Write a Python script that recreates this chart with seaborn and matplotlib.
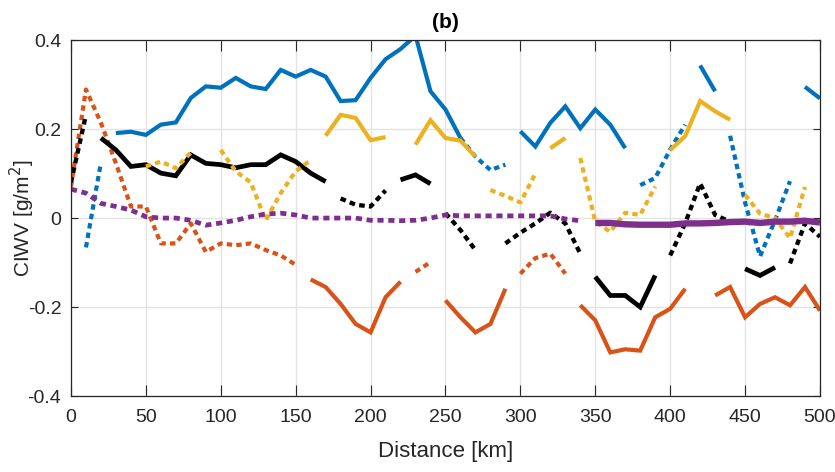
import numpy as np
import pandas as pd
import matplotlib
matplotlib.use("Agg")
import matplotlib.pyplot as plt
import seaborn as sns

# ---------------- data ----------------
distance = list(range(0, 510, 10))  # km, 51 points
nan = np.nan

blue = [nan, -0.066, 0.125, 0.191, 0.194, 0.187, 0.210, 0.215, 0.270, 0.296,
        0.293, 0.315, 0.296, 0.290, 0.333, 0.318, 0.333, 0.318, 0.263, 0.265,
        0.315, 0.357, 0.380, 0.410, 0.285, 0.244, 0.180, 0.138, 0.108, 0.120,
        0.195, 0.161, 0.214, 0.251, 0.202, 0.244, 0.210, 0.157, 0.074, 0.090,
        0.154, 0.210, 0.343, 0.285, 0.185, 0.035, -0.086, -0.005, 0.083, 0.295,
        0.269]
orange = [0.071, 0.289, 0.214, 0.123, 0.026, 0.026, -0.057, -0.057, -0.012, -0.076,
          -0.057, -0.061, -0.057, -0.072, -0.084, -0.105, -0.138, -0.155, -0.193, -0.238,
          -0.257, -0.178, -0.143, -0.121, -0.099, -0.185, -0.223, -0.257, -0.238, -0.159,
          -0.125, -0.090, -0.080, -0.125, -0.196, -0.230, -0.302, -0.295, -0.298, -0.223,
          -0.204, -0.159, nan, -0.174, -0.155, -0.223, -0.193, -0.178, -0.196, -0.155,
          -0.208]
black = [0.080, 0.232, 0.180, 0.153, 0.116, 0.120, 0.101, 0.095, 0.142, 0.123,
         0.120, 0.113, 0.120, 0.120, 0.142, 0.127, 0.101, 0.082, 0.044, 0.030,
         0.026, 0.062, 0.086, 0.097, 0.077, 0.011, -0.027, -0.072, nan, -0.057,
         -0.033, -0.012, 0.012, -0.012, -0.080, -0.132, -0.174, -0.174, -0.200, -0.129,
         -0.084, -0.012, 0.078, 0.007, -0.008, -0.114, -0.129, -0.111, -0.102, -0.012,
         -0.042]
yellow = [nan, nan, nan, nan, nan, 0.116, 0.127, 0.112, 0.147, nan,
          0.153, 0.105, 0.080, -0.005, 0.056, 0.105, 0.130, 0.185, 0.232, 0.225,
          0.175, 0.182, nan, 0.165, 0.220, 0.180, 0.174, 0.138, 0.063, 0.050,
          0.035, 0.100, 0.157, 0.180, 0.135, -0.008, -0.031, 0.012, 0.007, 0.071,
          0.153, 0.184, 0.263, 0.240, 0.221, 0.052, 0.010, 0.000, -0.045, 0.070,
          nan]
purple = [0.065, 0.056, 0.033, 0.026, 0.018, 0.003, 0.000, 0.000, -0.005, -0.016,
          -0.011, -0.005, 0.003, 0.009, 0.011, 0.007, 0.000, 0.000, 0.000, 0.000,
          -0.005, -0.005, -0.006, -0.005, 0.000, 0.007, 0.005, 0.005, 0.005, 0.005,
          0.005, 0.005, 0.005, -0.002, -0.006, -0.011, -0.011, -0.014, -0.015, -0.015,
          -0.015, -0.012, -0.012, -0.011, -0.009, -0.008, -0.011, -0.008, -0.008, -0.006,
          -0.010]

# class of each 10-km interval: S = solid, D = dotted, - = not shown
blue_class   = "-D-" + "S" * 23 + "DDD-" + "S" * 7 + "-DDD-S-DDDD-S"
orange_class = "D" * 15 + "-" + "S" * 6 + "-D-" + "SSSS-DDD-" + "S" * 7 + "--" + "S" * 7
black_class  = "D-" + "S" * 15 + "-DDD-SS-DD--" + "DDDDD-SSSS-DDDD-SS-DD"
yellow_class = "-----DDD--" + "DDDDDD-SSSS--SSSS-DDD-S-DDDDD-SSSS-DDDD-"
purple_class = "D" * 34 + "-" + "S" * 15

series = [
    ("blue", blue, blue_class),
    ("orange", orange, orange_class),
    ("black", black, black_class),
    ("yellow", yellow, yellow_class),
    ("purple", purple, purple_class),
]

# ---------------- build long table of runs ----------------
rows = []
run_id = 0
for name, vals, cls in series:
    assert len(vals) == 51 and len(cls) == 50, (name, len(vals), len(cls))
    i = 0
    while i < 50:
        c = cls[i]
        if c == "-":
            i += 1
            continue
        j = i
        while j < 50 and cls[j] == c:
            j += 1
        for k in range(i, j + 1):
            rows.append(dict(distance=distance[k], value=vals[k], series=name,
                             kind="solid" if c == "S" else "dotted", run=run_id))
        run_id += 1
        i = j
df = pd.DataFrame(rows)

colors = {
    "blue": "#0072BD",
    "orange": "#D95319",
    "yellow": "#EDB120",
    "purple": "#7E2F8E",
    "black": "#000000",
}

# ---------------- figure ----------------
sns.set_theme(style="whitegrid")
plt.rcParams["font.family"] = ["Liberation Sans Narrow", "Liberation Sans", "DejaVu Sans"]

fig = plt.figure(figsize=(8.35, 4.72), dpi=100)
ax = fig.add_axes([0.085, 0.161, 0.897, 0.754])

lw_solid = {"blue": 3.0, "orange": 3.0, "black": 3.4, "yellow": 3.0, "purple": 4.6}
lw_dot = {"blue": 3.0, "orange": 3.0, "black": 3.1, "yellow": 3.0, "purple": 3.4}

for name in ["blue", "orange", "black", "yellow", "purple"]:
    for kind in ["dotted", "solid"]:
        sub = df[(df.series == name) & (df.kind == kind)]
        if sub.empty:
            continue
        if kind == "solid":
            sns.lineplot(data=sub, x="distance", y="value", units="run", estimator=None,
                         color=colors[name], linewidth=lw_solid[name], ax=ax,
                         solid_joinstyle="miter", solid_capstyle="butt", legend=False)
        else:
            sns.lineplot(data=sub, x="distance", y="value", units="run", estimator=None,
                         color=colors[name], linewidth=lw_dot[name], ax=ax,
                         dashes=(1.3, 1.0), dash_capstyle="butt", legend=False)

ax.set_xlim(0, 500)
ax.set_ylim(-0.4, 0.4)
ax.set_xticks(range(0, 501, 50))
ax.set_yticks([-0.4, -0.2, 0, 0.2, 0.4])
ax.set_yticklabels(["-0.4", "-0.2", "0", "0.2", "0.4"])

ax.set_facecolor("white")
ax.grid(True, color="#e3e3e3", linewidth=1.0)
for s in ax.spines.values():
    s.set_visible(True)
    s.set_color("#262626")
    s.set_linewidth(0.9)

ax.tick_params(axis="x", which="both", direction="in", length=8, width=0.8,
               color="#262626", top=True, bottom=True, labelsize=14, labelcolor="#262626", pad=9)
ax.tick_params(axis="y", which="both", direction="in", length=5, width=0.8,
               color="#262626", left=True, right=True, labelsize=14, labelcolor="#262626", pad=7)

ax.set_xlabel("Distance [km]", fontsize=16, color="#262626", labelpad=11)
ax.set_ylabel("CIWV [g/m$^2$]", fontsize=15, color="#262626",
              family=["Liberation Sans", "DejaVu Sans"], va="center")
ax.yaxis.set_label_coords(-0.0654, 0.5)
ax.set_title("(b)", fontsize=15, fontweight="bold", color="#000000", pad=9)

fig.savefig("out.png", dpi=100, facecolor="white")
